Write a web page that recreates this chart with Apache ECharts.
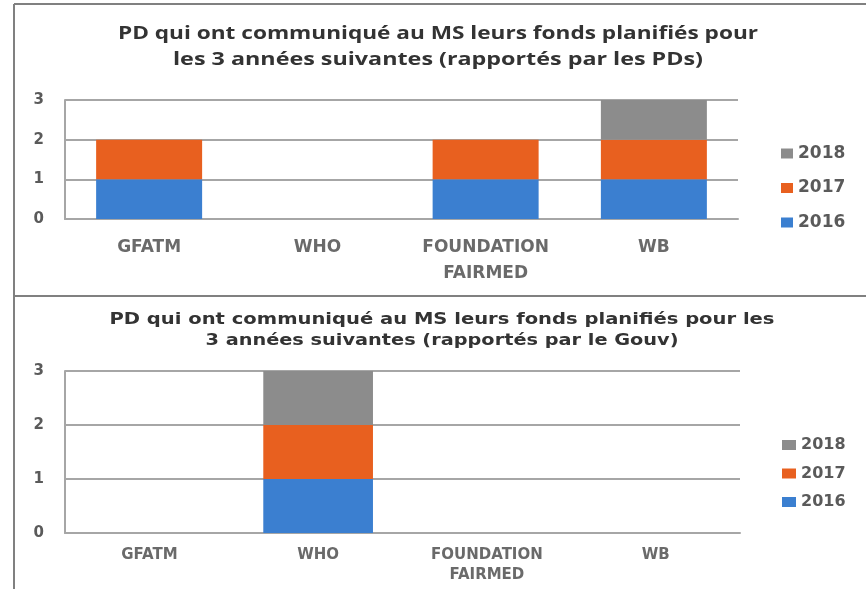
<!DOCTYPE html>
<html>
<head>
<meta charset="utf-8">
<script src="https://cdn.jsdelivr.net/npm/echarts@6/dist/echarts.min.js"></script>
<style>
html,body{margin:0;padding:0;background:#fff;}
#c{width:866px;height:589px;}
</style>
</head>
<body>
<div id="c"></div>
<script>
const categories = ['GFATM', 'WHO', 'FOUNDATION\nFAIRMED', 'WB'];
const years = ['2016', '2017', '2018'];
const legendOrder = ['2018', '2017', '2016'];
const yTicks = [0, 1, 2, 3];
const topTitleLines = ['PD qui ont communiqué au MS leurs fonds planifiés pour', 'les 3 années suivantes (rapportés par les PDs)'];
const bottomTitleLines = ['PD qui ont communiqué au MS leurs fonds planifiés pour les', '3 années suivantes (rapportés par le Gouv)'];
const top2016 = [1, 0, 1, 1];
const top2017 = [1, 0, 1, 1];
const top2018 = [0, 0, 0, 1];
const bot2016 = [0, 1, 0, 0];
const bot2017 = [0, 1, 0, 0];
const bot2018 = [0, 1, 0, 0];
const colors = {'2016': '#3b7fd0', '2017': '#e8601f', '2018': '#8c8c8c'};

const chart = echarts.init(document.getElementById('c'));
const textColor = '#5a5a5a';
const gridColor = '#a6a6a6';

const mctx = document.createElement('canvas').getContext('2d');
function measure(txt, font) { mctx.font = font; return mctx.measureText(txt).width; }

function titleText(txt, cx, cy, font, targetW) {
  const s = targetW / measure(txt, font);
  return {type: 'text', x: cx, y: cy, scaleX: s, silent: true,
    style: {text: txt, font: font, fill: '#333', textAlign: 'center', textVerticalAlign: 'middle'}};
}

function xAxis(idx, fs, lh, margin) {
  return {
    type: 'category', gridIndex: idx, data: categories,
    axisLine: {show: true, lineStyle: {color: gridColor, width: 2}},
    axisTick: {show: false},
    axisLabel: {color: '#6a6a6a', fontSize: fs, fontFamily: 'DejaVu Sans', fontWeight: 'bold', margin: margin, lineHeight: lh}
  };
}
function yAxis(idx) {
  return {
    type: 'value', gridIndex: idx, min: yTicks[0], max: yTicks[yTicks.length - 1], interval: 1,
    axisLine: {show: true, lineStyle: {color: gridColor, width: 2}},
    axisTick: {show: false},
    splitLine: {lineStyle: {color: gridColor, width: 2}},
    axisLabel: {color: textColor, fontSize: 15, fontFamily: 'DejaVu Sans', fontWeight: 'bold', margin: 21}
  };
}
function mk(name, data, idx, bw) {
  return {
    name: name, type: 'bar', stack: 's' + idx, xAxisIndex: idx, yAxisIndex: idx,
    data: data, barWidth: bw, itemStyle: {color: colors[name]}, silent: true
  };
}
const topData = {'2016': top2016, '2017': top2017, '2018': top2018};
const botData = {'2016': bot2016, '2017': bot2017, '2018': bot2018};

const f1 = 'bold 18px "Open Sans"';
const f2 = 'bold 15px "DejaVu Sans"';

chart.setOption({
  animation: false,
  legend: [
    {data: legendOrder, orient: 'vertical', left: 776, top: 140, itemWidth: 12, itemHeight: 10, itemGap: 17.5,
     icon: 'rect', textStyle: {fontSize: 17, color: textColor, fontFamily: 'DejaVu Sans', fontWeight: 'bold'}},
    {data: legendOrder, orient: 'vertical', left: 777, top: 432, itemWidth: 14, itemHeight: 10, itemGap: 12.5,
     icon: 'rect', textStyle: {fontSize: 16, color: textColor, fontFamily: 'DejaVu Sans', fontWeight: 'bold'}}
  ],
  grid: [
    {left: 65, right: 128, top: 100, height: 119},
    {left: 65, right: 126, top: 371, height: 162}
  ],
  xAxis: [xAxis(0, 17, 26, 16), xAxis(1, 15, 20, 12)],
  yAxis: [yAxis(0), yAxis(1)],
  series: years.map(y => mk(y, topData[y], 0, '63%')).concat(years.map(y => mk(y, botData[y], 1, '65%'))),
  graphic: [
    {type: 'line', shape: {x1: 14, y1: 4, x2: 866, y2: 4}, style: {stroke: '#808080', lineWidth: 2}},
    {type: 'line', shape: {x1: 14, y1: 4, x2: 14, y2: 589}, style: {stroke: '#808080', lineWidth: 2}},
    {type: 'line', shape: {x1: 14, y1: 296, x2: 866, y2: 296}, style: {stroke: '#808080', lineWidth: 2}},
    titleText(topTitleLines[0], 438, 34, f1, 640),
    titleText(topTitleLines[1], 438, 60, f1, 530),
    titleText(bottomTitleLines[0], 442, 320, f2, 665),
    titleText(bottomTitleLines[1], 442, 341, f2, 473)
  ]
});
</script>
</body>
</html>
